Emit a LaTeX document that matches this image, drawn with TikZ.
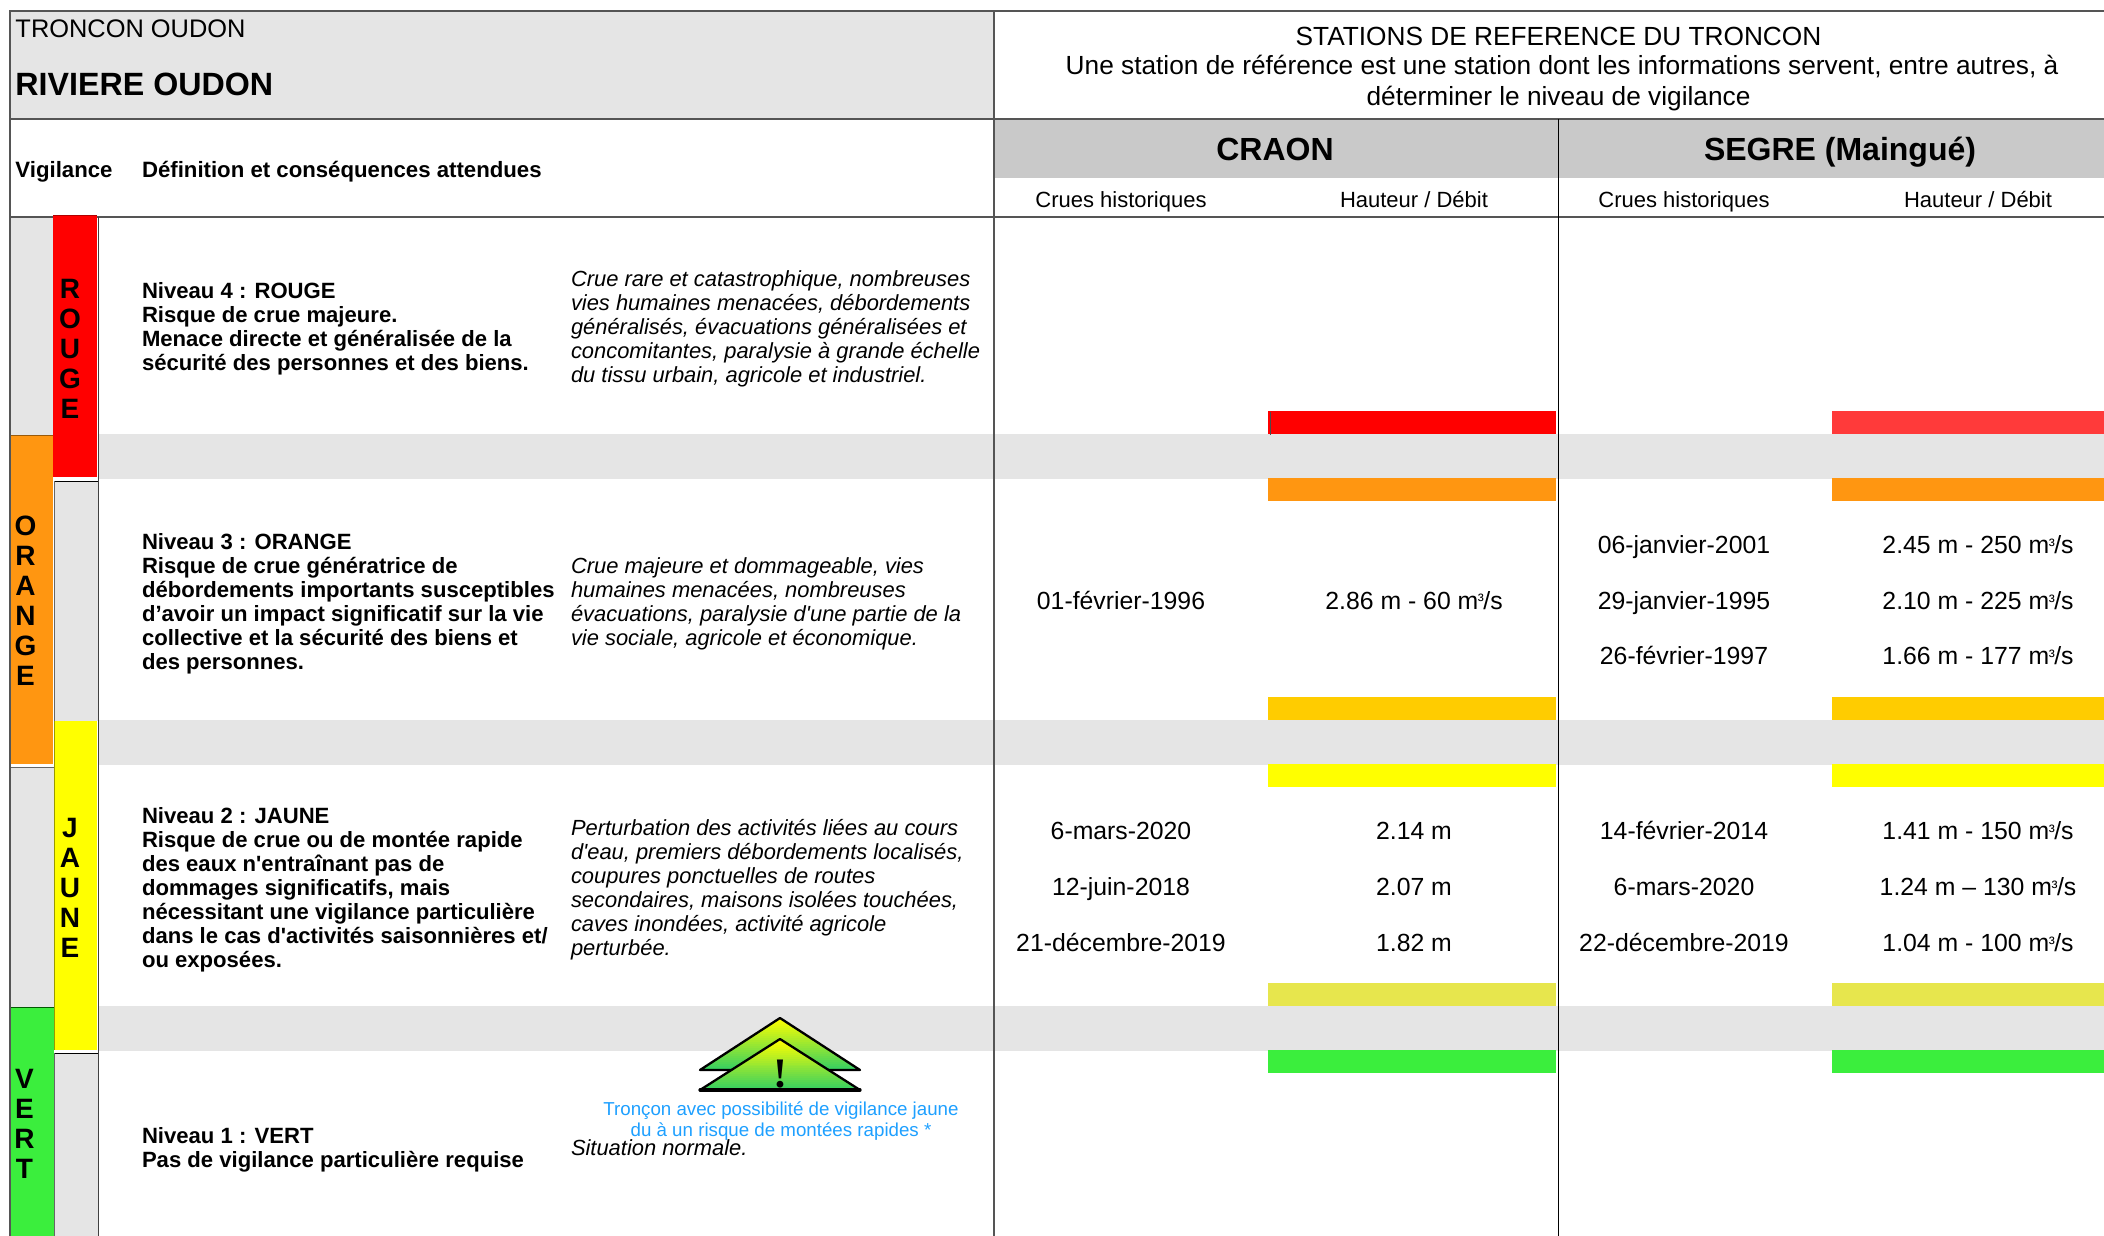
\documentclass[tikz,border=0pt]{standalone}
\usepackage{fontspec}
\setmainfont{Liberation Sans}
\newfontfamily\bangfont{Liberation Serif}
\usetikzlibrary{calc}
\newcommand\mcube{m\kern-0.2pt{\fontsize{9}{9}\selectfont\raisebox{1.1pt}{³}}\kern-0.3pt/s}
\definecolor{bandgrey}{HTML}{E5E5E5}
\definecolor{headgrey}{HTML}{C9C9C9}
\definecolor{vred}{HTML}{FF0000}
\definecolor{vredb}{HTML}{FF3A3A}
\definecolor{vorange}{HTML}{FF9611}
\definecolor{vgold}{HTML}{FFCC00}
\definecolor{vyellow}{HTML}{FFFF00}
\definecolor{vyelgreen}{HTML}{E7E64D}
\definecolor{vgreen}{HTML}{3BEE3D}
\definecolor{vblue}{HTML}{1EA0FF}
\definecolor{vtri}{HTML}{38D060}
\definecolor{lineg}{HTML}{555555}
\newcommand\gradtri[2]{% apex y, base y
  \begin{scope}
    \clip (780,#1) -- (860,#2) -- (700,#2) -- cycle;
    \foreach \i in {0,...,25}{
      \pgfmathsetmacro\pc{4*\i}
      \pgfmathsetmacro\ya{#1+(#2-#1)*\i/26}
      \pgfmathsetmacro\yb{#1+(#2-#1)*(\i+1.2)/26}
      \fill[vtri!\pc!vyellow] (690,\ya) rectangle (870,\yb);
    }
  \end{scope}
  \draw[tri] (780,#1) -- (860,#2) -- (700,#2) -- cycle;
}
\tikzset{
  x=0.5pt,y=-0.5pt,
  txt/.style={inner sep=0pt,outer sep=0pt},
  leftb/.style={txt,anchor=north west,align=left,font=\fontsize{11.05}{12}\selectfont\bfseries,execute at begin node={\rule{0pt}{10pt}}},
  ital/.style={txt,anchor=north west,align=left,font=\fontsize{10.95}{12}\selectfont\itshape,execute at begin node={\rule{0pt}{10pt}}},
  colb/.style={txt,anchor=base west,font=\fontsize{11.1}{12}\selectfont\bfseries},
  sub/.style={txt,anchor=base,font=\fontsize{11}{12}\selectfont},
  data/.style={txt,anchor=base,font=\fontsize{12.4}{14}\selectfont},
  station/.style={txt,anchor=base,font=\fontsize{16}{20}\selectfont\bfseries},
  vlet/.style={txt,anchor=north,align=center,font=\fontsize{14}{15}\selectfont\bfseries,execute at begin node={\rule{0pt}{10pt}}},
  hline/.style={txt,anchor=base,font=\fontsize{13.13}{15}\selectfont},
  warn/.style={txt,anchor=base,font=\fontsize{9.36}{12}\selectfont,text=vblue},
  frame/.style={draw=black,line width=0.5pt},
  frameg/.style={draw=lineg,line width=0.8pt},
  tri/.style={line width=1.15pt,line join=round,line cap=round},
}
\begin{document}
\begin{tikzpicture}
\useasboundingbox (0,0) rectangle (2104,1236);
\fill[white] (0,0) rectangle (2104,1236);
% backgrounds
\fill[bandgrey] (10,11) rectangle (994,119);
\fill[headgrey] (994,119) rectangle (2104,178);
\foreach \a/\b in {434/479,720/765,1006/1051}{\fill[bandgrey] (98,\a) rectangle (2104,\b);}
% left columns
\fill[bandgrey] (10,217) rectangle (54,435);
\fill[bandgrey] (10,767) rectangle (54,1007);
\fill[bandgrey] (54,481) rectangle (98,721);
\fill[bandgrey] (54,1053) rectangle (98,1236);
\fill[vorange] (10,435) rectangle (53,764);
\fill[vgreen] (10,1007) rectangle (54,1236);
\fill[vyellow] (54,721) rectangle (97,1050);
\draw[line width=0.5pt,vorange!60!black] (10,435) -- (53,435);
\draw[line width=0.5pt,black!60] (10,767) -- (54,767);
\draw[line width=0.5pt,green!35!black] (10,1007) -- (54,1007);
\draw[line width=0.5pt,vyellow!60!black] (54,721) -- (54,1050);
% bars
\foreach \xa/\xb/\r in {1268/1556/vred,1832/2104/vredb}{
  \fill[\r] (\xa,411) rectangle (\xb,434);
  \fill[vorange] (\xa,478) rectangle (\xb,501);
  \fill[vgold] (\xa,697) rectangle (\xb,720);
  \fill[vyellow] (\xa,764) rectangle (\xb,787);
  \fill[vyelgreen] (\xa,983) rectangle (\xb,1006);
  \fill[vgreen] (\xa,1050) rectangle (\xb,1073);
}
\draw[line width=0.5pt,black!70] (1270,412) -- (1270,435);
% lines
\draw[frameg] (10,1236) -- (10,11) -- (2104,11);
\draw[frameg] (10,119) -- (2104,119);
\draw[frameg] (10,217) -- (2104,217);
\draw[frameg] (994,11) -- (994,1236);
\draw[frame] (1558,119) -- (1558,1236);
\draw[frame] (54,481) -- (98,481) (54,1053) -- (98,1053);
\draw[line width=0.5pt,black!60] (54,481) -- (54,721) (54,1053) -- (54,1236);
\draw[line width=0.5pt,black!75] (98,217) -- (98,1236);
\fill[vred] (53,215) rectangle (97,477);
\draw[line width=0.5pt,vred!70!black] (53,215) -- (97,215);
% header
\node[txt,anchor=base west,font=\fontsize{12.7}{15}\selectfont] (troncon) at (15.5,38) {TRONCON OUDON};
\node[txt,anchor=base west,font=\fontsize{16.1}{18}\selectfont\bfseries] (riviere) at (15.5,95.5) {RIVIERE OUDON};
\node[colb] (vig) at (15.5,177) {Vigilance};
\node[colb] (def) at (142,177) {Définition et conséquences attendues};
\node[hline] (st1) at (1558.5,46) {STATIONS DE REFERENCE DU TRONCON};
\node[hline] (st2) at (1562,75) {Une station de référence est une station dont les informations servent, entre autres, à};
\node[hline] (st3) at (1558.5,105) {déterminer le niveau de vigilance};
\node[station] (craon) at (1275,161) {CRAON};
\node[station] (segre) at (1840,161) {SEGRE (Maingué)};
\node[sub] (s1) at (1121,207) {Crues historiques};
\node[sub] (s2) at (1414,207) {Hauteur / Débit};
\node[sub] (s3) at (1684,207) {Crues historiques};
\node[sub] (s4) at (1978,207) {Hauteur / Débit};
% vertical words
\node[vlet] (rouge) at (70,279) {R\\O\\U\\G\\E};
\node[vlet] (orange) at (25.5,515.5) {O\\R\\A\\N\\G\\E};
\node[vlet] (jaune) at (70,818.5) {J\\A\\U\\N\\E};
\node[vlet] (vert) at (24.5,1069) {V\\E\\R\\T};
% definitions
\node[leftb] (n4) at (142,282) {Niveau 4 : ROUGE\\Risque de crue majeure.\\Menace directe et généralisée de la\\sécurité des personnes et des biens.};
\node[ital] (i4) at (571,271) {Crue rare et catastrophique, nombreuses\\vies humaines menacées, débordements\\généralisés, évacuations généralisées et\\concomitantes, paralysie à grande échelle\\du tissu urbain, agricole et industriel.};
\node[leftb] (n3) at (142,533) {Niveau 3 : ORANGE\\Risque de crue génératrice de\\débordements importants susceptibles\\d’avoir un impact significatif sur la vie\\collective et la sécurité des biens et\\des personnes.};
\node[ital] (i3) at (571,558) {Crue majeure et dommageable, vies\\humaines menacées, nombreuses\\évacuations, paralysie d\textquotesingle une partie de la\\vie sociale, agricole et économique.};
\node[leftb] (n2) at (142,807) {Niveau 2 : JAUNE\\Risque de crue ou de montée rapide\\des eaux n\textquotesingle entraînant pas de\\dommages significatifs, mais\\nécessitant une vigilance particulière\\dans le cas d\textquotesingle activités saisonnières et/\\ou exposées.};
\node[ital] (i2) at (571,819) {Perturbation des activités liées au cours\\d\textquotesingle eau, premiers débordements localisés,\\coupures ponctuelles de routes\\secondaires, maisons isolées touchées,\\caves inondées, activité agricole\\perturbée.};
\node[leftb] (n1) at (142,1127) {Niveau 1 : VERT\\Pas de vigilance particulière requise};
% warning triangles: slices from yellow at the apex to green at the base
\gradtri{1018}{1070}
\gradtri{1039}{1090}
\draw[tri,line width=1.6pt] (700,1090) -- (860,1090);
\node[txt,anchor=base,font=\fontsize{21}{22}\selectfont\bangfont\bfseries] (bang) at (780,1087) {!};
\node[warn] (w1) at (781,1115) {Tronçon avec possibilité de vigilance jaune};
\node[warn] (w2) at (781,1136) {du à un risque de montées rapides *};
\node[ital] (i1) at (571,1135) {Situation normale.};
% data
\node[data] (d1) at (1121,609) {01-février-1996};
\node[data] (d2) at (1414,609) {2.86 m - 60 \mcube};
\node[data] at (1684,553.5) (d3) {06-janvier-2001};
\node[data] at (1978,553.5) (d4) {2.45 m - 250 \mcube};
\node[data] at (1684,609.5) (d5) {29-janvier-1995};
\node[data] at (1978,609.5) (d6) {2.10 m - 225 \mcube};
\node[data] at (1684,664.5) (d7) {26-février-1997};
\node[data] at (1978,664.5) (d8) {1.66 m - 177 \mcube};
\node[data] at (1121,839.5) (d9) {6-mars-2020};
\node[data] at (1414,839.5) (d10) {2.14 m};
\node[data] at (1121,895.5) (d11) {12-juin-2018};
\node[data] at (1414,895.5) (d12) {2.07 m};
\node[data] at (1121,951.5) (d13) {21-décembre-2019};
\node[data] at (1414,951.5) (d14) {1.82 m};
\node[data] at (1684,839.5) (d15) {14-février-2014};
\node[data] at (1978,839.5) (d16) {1.41 m - 150 \mcube};
\node[data] at (1684,895.5) (d17) {6-mars-2020};
\node[data] at (1978,895.5) (d18) {1.24 m – 130 \mcube};
\node[data] at (1684,951.5) (d19) {22-décembre-2019};
\node[data] at (1978,951.5) (d20) {1.04 m - 100 \mcube};
\end{tikzpicture}
\end{document}
